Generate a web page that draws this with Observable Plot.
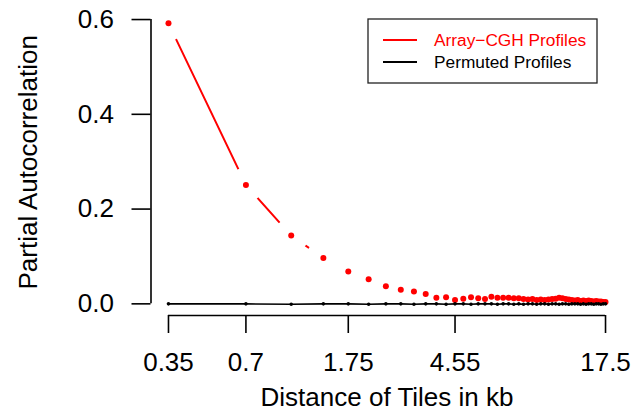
<!DOCTYPE html>
<html><head><meta charset="utf-8">
<script src="https://cdn.jsdelivr.net/npm/d3@7"></script>
<script src="https://cdn.jsdelivr.net/npm/@observablehq/plot@0.6"></script>
<style>html,body{margin:0;padding:0;background:#fff;} svg{display:block;}</style>
</head><body><div id="chart"></div>
<script>
// ---- data ----
const tileKb = 0.35;
const lags = [1,2,3,4,5,6,7,8,9,10,11,12,13,14,15,16,17,18,19,20,21,22,23,24,25,
              26,27,28,29,30,31,32,33,34,35,36,37,38,39,40,41,42,43,44,45,46,47,48,49,50];
const cghValues = [0.592,0.251,0.144,0.097,0.068,0.052,0.037,0.030,0.026,0.021,
                   0.013,0.014,0.008,0.011,0.014,0.012,0.010,0.015,0.013,0.013,
                   0.013,0.012,0.012,0.010,0.009,0.010,0.008,0.009,0.008,0.009,
                   0.010,0.011,0.013,0.012,0.010,0.009,0.008,0.007,0.008,0.006,
                   0.007,0.006,0.007,0.006,0.005,0.006,0.005,0.005,0.004,0.004];
const permValues = [0.000,0.000,-0.001,0.000,0.000,-0.001,0.000,0.000,-0.001,0.000,
                    0.000,-0.001,0.000,0.000,-0.001,0.000,0.000,0.000,-0.001,0.000,
                    0.000,-0.001,0.000,-0.001,0.000,0.000,-0.001,0.000,0.000,-0.001,
                    0.000,0.000,-0.001,0.000,0.000,-0.001,0.000,0.000,0.000,-0.001,
                    0.000,-0.001,0.000,0.000,-0.001,0.000,0.000,-0.001,0.000,0.000];
const xTicks = [0.35, 0.7, 1.75, 4.55, 17.5];
const xTickLabels = ["0.35", "0.7", "1.75", "4.55", "17.5"];
const yTicks = [0, 0.2, 0.4, 0.6];
const yTickLabels = ["0.0", "0.2", "0.4", "0.6"];
const seriesNames = ["Array\u2212CGH Profiles", "Permuted Profiles"];
const seriesColors = ["#ff0000", "#000000"];
const xTitle = "Distance of Tiles in kb";
const yTitle = "Partial Autocorrelation";

// ---- build ----
const font = "'Liberation Sans', Arial, Helvetica, sans-serif";
const cgh = lags.map((k, i) => ({d: k * tileKb, v: cghValues[i]}));
const perm = lags.map((k, i) => ({d: k * tileKb, v: permValues[i]}));
const xPad = Math.pow(xTicks[xTicks.length-1] / xTicks[0], 0.04);
const xDomain = [xTicks[0] / xPad, xTicks[xTicks.length-1] * xPad];
const yDomain = [-0.0246, 0.6136];
const axisW = 1.6;
const lookup = (ticks, labels) => d => {
  const i = ticks.findIndex(t => Math.abs(t - d) < 1e-9);
  return i < 0 ? "" : labels[i];
};
const xTickData = xTicks.map((t, i) => ({t, label: xTickLabels[i]}));

const svg = Plot.plot({
  width: 643, height: 411,
  marginLeft: 150.5, marginRight: 20.5, marginTop: 12.6, marginBottom: 96,
  style: {fontFamily: font, background: "white", color: "black", overflow: "visible"},
  x: {type: "log", domain: xDomain},
  y: {domain: yDomain},
  marks: [
    Plot.line(cgh, {x: "d", y: "v", stroke: seriesColors[0], strokeWidth: 2}),
    Plot.dot(cgh, {x: "d", y: "v", r: 17.5, fill: "white"}),
    Plot.dot(cgh, {x: "d", y: "v", r: 3, fill: seriesColors[0]}),
    Plot.line(perm, {x: "d", y: "v", stroke: seriesColors[1], strokeWidth: 1.6}),
    Plot.dot(perm, {x: "d", y: "v", r: 1.8, fill: seriesColors[1]}),
    Plot.ruleX([xDomain[0]], {y1: yTicks[0], y2: yTicks[yTicks.length-1], strokeWidth: axisW}),
    Plot.ruleY([yDomain[0]], {x1: xTicks[0], x2: xTicks[xTicks.length-1], strokeWidth: axisW}),
    Plot.axisY({anchor: "left", ticks: yTicks, tickSize: 19, tickPadding: 18, fontSize: 26,
                strokeWidth: axisW, label: null,
                tickFormat: lookup(yTicks, yTickLabels)}),
    Plot.axisX({anchor: "bottom", ticks: xTicks, tickSize: 18, tickPadding: 14, fontSize: 26,
                strokeWidth: axisW, label: null, tickFormat: () => ""}),
    Plot.text(xTickData, {x: "t", text: "label", frameAnchor: "bottom", dy: 47, fontSize: 26,
                lineAnchor: "middle", textAnchor: "middle"}),
    Plot.text([xTitle], {text: d => d, frameAnchor: "bottom", dy: 82, fontSize: 26,
                lineAnchor: "middle", textAnchor: "middle"}),
    Plot.text([yTitle], {text: d => d, frameAnchor: "left", rotate: -90, dx: -122, dy: -2,
                fontSize: 26, lineAnchor: "middle", textAnchor: "middle"})
  ]
});

// legend (layout in pixels)
const s = d3.select(svg);
const lg = s.append("g").attr("font-family", font).attr("text-anchor", "start");
lg.append("rect").attr("x", 368).attr("y", 19).attr("width", 229).attr("height", 64)
  .attr("fill", "white").attr("stroke", "#222").attr("stroke-width", 1.3);
seriesNames.forEach((name, i) => {
  const yy = 40 + i * 22;
  lg.append("line").attr("x1", 383).attr("x2", 417).attr("y1", yy).attr("y2", yy)
    .attr("stroke", seriesColors[i]).attr("stroke-width", 1.8);
  lg.append("text").attr("x", 434).attr("y", yy).attr("dy", "0.36em")
    .attr("text-anchor", "start")
    .attr("font-size", 17.3).attr("fill", seriesColors[i]).text(name);
});
document.getElementById("chart").appendChild(svg);
</script>
</body></html>
